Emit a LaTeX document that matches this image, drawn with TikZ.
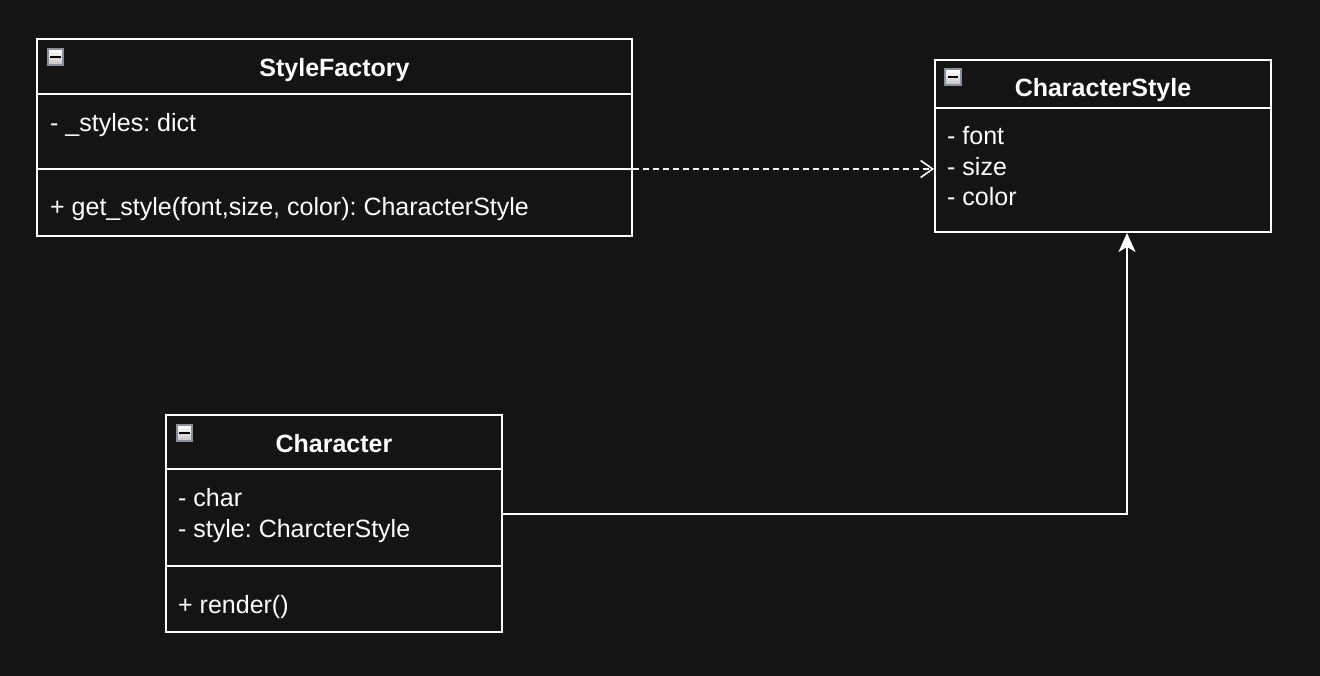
\documentclass[tikz,border=0pt]{standalone}
\usepackage{fontspec}
\setmainfont{Liberation Sans}
\usetikzlibrary{arrows.meta}
\definecolor{bg}{HTML}{141414}
\definecolor{iconedge}{HTML}{8A9099}
\frenchspacing
\begin{document}
\begin{tikzpicture}[x=1pt,y=-1pt,
  umlbox/.style={draw=white,line width=2pt,rectangle,inner sep=0pt},
  sepline/.style={draw=white,line width=2pt},
  title/.style={text=white,font=\fontsize{25}{30}\selectfont\bfseries,anchor=base,inner sep=0pt},
  member/.style={text=white,font=\fontsize{25}{31}\selectfont,anchor=base west,inner sep=0pt},
  conn/.style={draw=white,line width=1.6pt},
  icon/.style={draw=iconedge,line width=1.8pt,top color=white,bottom color=gray!45,rectangle,inner sep=0pt,minimum size=15.5pt},
  minus/.style={line width=2.2pt,black}
]
\fill[bg] (0,0) rectangle (1320,676);
\useasboundingbox (0,0) rectangle (1320,676);

% StyleFactory
\node[umlbox,minimum width=595pt,minimum height=197pt] (sf) at (334.5,137.5) {};
\draw[sepline] (37,94) -- (632,94);
\draw[sepline] (37,169) -- (632,169);
\node[icon] (sficon) at (55.5,57) {};
\draw[minus] ([xshift=3.5pt]sficon.west) -- ([xshift=-3.5pt]sficon.east);
\node[title] (sft) at (334.5,77) {StyleFactory};
\node[member] (sfa) at (50,132) {- \_styles: dict};
\node[member] (sfm) at (50,216) {+ get\_style(font,size, color): CharacterStyle};

% CharacterStyle
\node[umlbox,minimum width=336pt,minimum height=172pt] (cs) at (1103,146) {};
\draw[sepline] (935,108) -- (1271,108);
\node[icon] (csicon) at (953,77) {};
\draw[minus] ([xshift=3.5pt]csicon.west) -- ([xshift=-3.5pt]csicon.east);
\node[title] (cst) at (1103,97) {CharacterStyle};
\node[member] (csa1) at (947,145) {- font};
\node[member] (csa2) at (947,176) {- size};
\node[member] (csa3) at (947,206) {- color};

% Character
\node[umlbox,minimum width=336pt,minimum height=217pt] (ch) at (334,523.5) {};
\draw[sepline] (166,469) -- (502,469);
\draw[sepline] (166,566) -- (502,566);
\node[icon] (chicon) at (184.5,433) {};
\draw[minus] ([xshift=3.5pt]chicon.west) -- ([xshift=-3.5pt]chicon.east);
\node[title] (cht) at (334,452) {Character};
\node[member] (cha1) at (178,506) {- char};
\node[member] (cha2) at (178,537) {- style: CharcterStyle};
\node[member] (chm) at (178,613) {+ render()};

% connectors
\coordinate (dashy) at (0,169);
\draw[conn,dash pattern=on 6pt off 4pt,-{Straight Barb[length=12pt,width=17pt,line width=1.6pt]}]
  (dashy -| sf.east) -- (dashy -| cs.west);
\coordinate (liny) at (0,514);
\coordinate (csin) at (1127,0);
\draw[conn,-{Stealth[length=19pt,width=17pt,inset=5pt]}]
  (liny -| ch.east) -| (csin |- cs.south);
\end{tikzpicture}
\end{document}
